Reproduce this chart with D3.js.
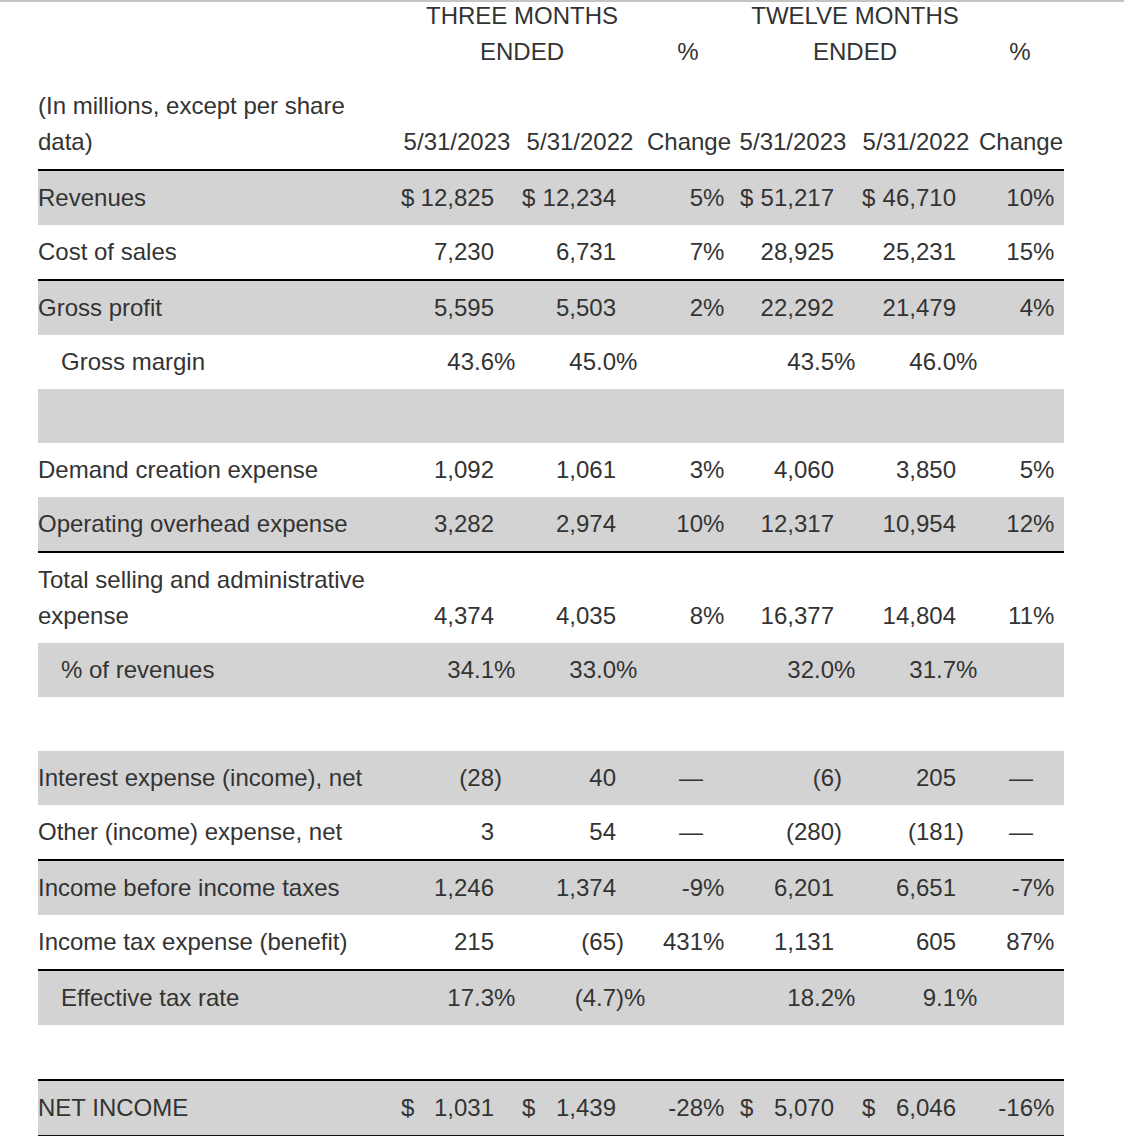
<!DOCTYPE html>
<html><head><meta charset="utf-8">
<script src="https://cdn.jsdelivr.net/npm/d3@7"></script>
<style>
html,body{margin:0;padding:0;background:#fff;}
svg text{font-family:"Liberation Sans",Arial,Helvetica,sans-serif;font-size:24px;fill:#333;}
</style></head><body>
<svg id="chart" width="1124" height="1136"></svg>
<script>
// ---- data ----
const rowLabels = ["Revenues","Cost of sales","Gross profit","Gross margin","",
  "Demand creation expense","Operating overhead expense",
  "Total selling and administrative|expense","% of revenues","",
  "Interest expense (income), net","Other (income) expense, net",
  "Income before income taxes","Income tax expense (benefit)","Effective tax rate","","NET INCOME"];
const rowKinds = ["num","num","num","pct","empty","num","num","num","pct","empty","num","num","num","num","pct","empty","num"];
const indented = [3,8,14];
const dollarRows = [0,16];
const grayRows = [0,2,4,6,8,10,12,14,16];
const lineAfter = [1,6,11,13,15]; // rule after these rows (plus above first row)
const q4_2023 = [12825,7230,5595,43.6,null,1092,3282,4374,34.1,null,-28,3,1246,215,17.3,null,1031];
const q4_2022 = [12234,6731,5503,45.0,null,1061,2974,4035,33.0,null,40,54,1374,-65,-4.7,null,1439];
const q4_change = [5,7,2,null,null,3,10,8,null,null,"—","—",-9,431,null,null,-28];
const fy_2023 = [51217,28925,22292,43.5,null,4060,12317,16377,32.0,null,-6,-280,6201,1131,18.2,null,5070];
const fy_2022 = [46710,25231,21479,46.0,null,3850,10954,14804,31.7,null,205,-181,6651,605,9.1,null,6046];
const fy_change = [10,15,4,null,null,5,12,11,null,null,"—","—",-7,87,null,null,-16];
const groupHeaders = [["THREE MONTHS","ENDED"],["%"],["TWELVE MONTHS","ENDED"],["%"]];
const dateHeaders = ["5/31/2023","5/31/2022","Change","5/31/2023","5/31/2022","Change"];

const svg = d3.select("#chart");
const W = 1124, left = 38, right = 1064, rowH = 54, lineH = 36, base = 7.8;

const cols = [
  {vals:q4_2023, kind:"val"},{vals:q4_2022, kind:"val"},{vals:q4_change, kind:"chg"},
  {vals:fy_2023, kind:"val"},{vals:fy_2022, kind:"val"},{vals:fy_change, kind:"chg"}];
const colAnchor = d3.scaleOrdinal().domain(d3.range(6)).range([494,616,703,834,956,1033]);
const dollarX = d3.scaleOrdinal().domain(d3.range(6)).range([401,522,null,740,862,null]);
const dateX = d3.scaleOrdinal().domain(d3.range(6)).range([457,580,689,793,916,1021]);
const groupX = d3.scaleOrdinal().domain(d3.range(4)).range([522,688,855,1020]);

const loc = d3.formatLocale({decimal:".", thousands:",", grouping:[3], currency:["$",""], minus:"-"});
const fmtInt = loc.format(",");
const fmt1 = loc.format(".1f");

// top shade line
svg.append("rect").attr("x",0).attr("y",0).attr("width",W).attr("height",2).attr("fill","#c4c4c4");

// header
groupHeaders.forEach((lines,i)=>{
  const n = lines.length;
  lines.forEach((t,j)=>{
    const cy = (n===1) ? 52 : 16 + j*lineH;
    svg.append("text").attr("x",groupX(i)).attr("y",cy+base).attr("text-anchor","middle").text(t);
  });
});
svg.append("text").attr("x",left).attr("y",106+base).text("(In millions, except per share");
svg.append("text").attr("x",left).attr("y",142+base).text("data)");
dateHeaders.forEach((t,i)=>{
  svg.append("text").attr("x",dateX(i)).attr("y",142+base).attr("text-anchor","middle").text(t);
});

// row layout
let y = 171;
const layout = rowLabels.map((lab,i)=>{
  const nl = lab.split("|").length;
  const h = rowH + (nl-1)*lineH;
  const r = {top:y, h:h, lines:lab ? lab.split("|") : []};
  y += h;
  if (lineAfter.includes(i)) y += 2;
  return r;
});

const bg = svg.append("g"), fg = svg.append("g");

// rules
const rules = [169].concat(lineAfter.map(i=>layout[i].top+layout[i].h));
rules.forEach(ry=>fg.append("rect").attr("x",left).attr("y",ry).attr("width",right-left).attr("height",2).attr("fill","#000"));
const last = layout[layout.length-1];
fg.append("rect").attr("x",left).attr("y",last.top+last.h).attr("width",right-left).attr("height",1.3).attr("fill","#111");

layout.forEach((r,i)=>{
  if (grayRows.includes(i)) bg.append("rect").attr("x",left).attr("y",r.top).attr("width",right-left).attr("height",r.h).attr("fill","#d3d3d3");
  const lx = indented.includes(i) ? 61 : left;
  r.lines.forEach((t,j)=>{
    fg.append("text").attr("x",lx).attr("y",r.top+9+18+j*lineH+base).text(t);
  });
  const vy = r.top + r.h - 27 + base;
  cols.forEach((c,ci)=>{
    const v = c.vals[i];
    if (v===null || v===undefined) return;
    let main, suf = "";
    if (typeof v === "string") { main = v; }
    else if (c.kind === "chg") { main = fmtInt(v); suf = "%"; }
    else if (rowKinds[i] === "pct") {
      main = v<0 ? "(" + fmt1(-v) : fmt1(v);
      suf = v<0 ? ")%" : "%";
    } else {
      main = v<0 ? "(" + fmtInt(-v) : fmtInt(v);
      suf = v<0 ? ")" : "";
    }
    const ax = colAnchor(ci);
    fg.append("text").attr("x",ax).attr("y",vy).attr("text-anchor","end").text(main);
    if (suf) fg.append("text").attr("x",ax).attr("y",vy).text(suf);
    if (dollarRows.includes(i) && dollarX(ci)!=null) {
      fg.append("text").attr("x",dollarX(ci)).attr("y",vy).text("$");
    }
  });
});
</script></body></html>
